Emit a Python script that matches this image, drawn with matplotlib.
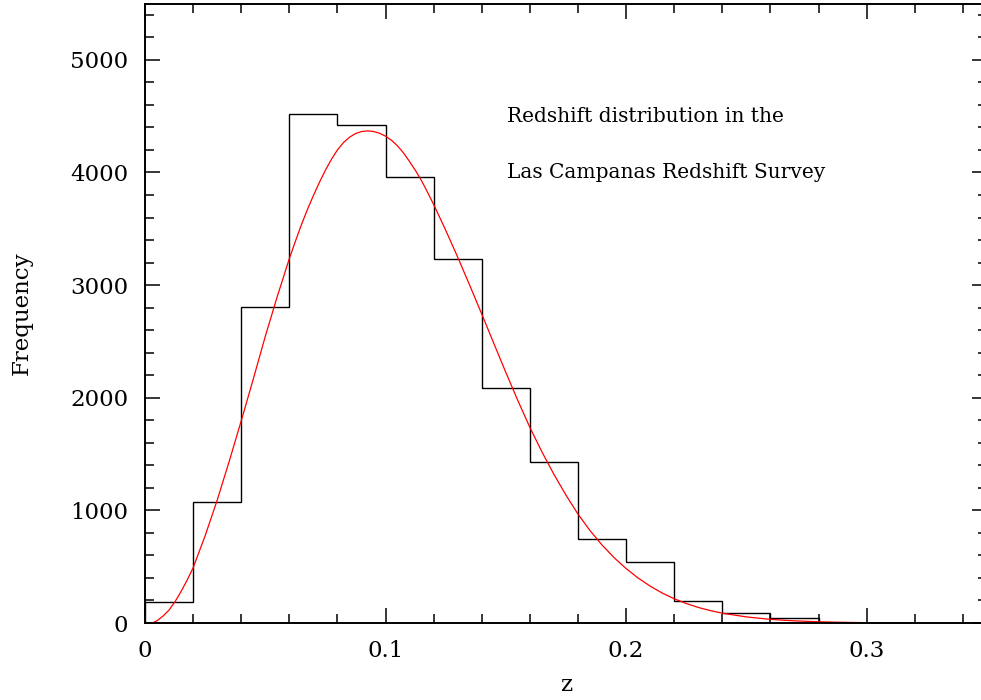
import numpy as np
import matplotlib
matplotlib.use("Agg")
import matplotlib.pyplot as plt
from matplotlib.ticker import MultipleLocator

# Histogram of redshifts: bin edges and counts per bin
bin_edges = [0.00, 0.02, 0.04, 0.06, 0.08, 0.10, 0.12, 0.14, 0.16,
             0.18, 0.20, 0.22, 0.24, 0.26, 0.28]
counts = [189, 1077, 2806, 4520, 4425, 3962, 3235, 2085, 1432,
          750, 539, 198, 86, 40]

# Smooth fitted distribution, sampled along z
fit_z = [0.0030, 0.0050, 0.0075, 0.0100, 0.0125, 0.0150, 0.0175, 0.0200,
         0.0250, 0.0300, 0.0350, 0.0400, 0.0450, 0.0500, 0.0550, 0.0600,
         0.0625, 0.0650, 0.0675, 0.0700, 0.0725, 0.0750, 0.0775, 0.0800,
         0.0825, 0.0850, 0.0875, 0.0900, 0.0925, 0.0950, 0.0975, 0.1000,
         0.1025, 0.1050, 0.1075, 0.1100, 0.1125, 0.1150, 0.1175, 0.1200,
         0.1250, 0.1300, 0.1350, 0.1400, 0.1450, 0.1500, 0.1550, 0.1600,
         0.1650, 0.1700, 0.1750, 0.1800, 0.1850, 0.1900, 0.1950, 0.2000,
         0.2050, 0.2100, 0.2150, 0.2200, 0.2250, 0.2300, 0.2350, 0.2400,
         0.2500, 0.2600, 0.2700, 0.2800, 0.2900, 0.3000, 0.3100, 0.3200]
fit_n = [0, 20, 62, 115, 190, 280, 380, 490,
         775, 1090, 1435, 1795, 2165, 2545, 2900, 3235,
         3388, 3535, 3670, 3795, 3912, 4020, 4117, 4200,
         4265, 4313, 4345, 4363, 4369, 4364, 4348, 4322,
         4285, 4235, 4172, 4096, 4015, 3925, 3822, 3715,
         3487, 3247, 2997, 2742, 2482, 2224, 1974, 1736,
         1519, 1319, 1135, 966, 820, 692, 580, 483,
         399, 327, 266, 215, 173, 138, 110, 87,
         54, 32, 19, 11, 6, 3, 1, 0]

x_major = [0.0, 0.1, 0.2, 0.3]
x_labels = ["0", "0.1", "0.2", "0.3"]
y_major = [0, 1000, 2000, 3000, 4000, 5000]
y_labels = ["0", "1000", "2000", "3000", "4000", "5000"]

title_lines = ["Redshift distribution in the", "Las Campanas Redshift Survey"]

plt.rcParams["font.family"] = ["DejaVu Serif"]

fig = plt.figure(figsize=(9.81, 7.0), dpi=100)
ax = fig.add_axes([145 / 981, 77 / 700, 842 / 981, 619.5 / 700])

ax.stairs(counts, bin_edges, color="black", linewidth=1.0, baseline=0)
ax.plot(fit_z, fit_n, color="red", linewidth=0.9)

ax.set_xlim(0, 0.35)
ax.set_ylim(0, 5500)

ax.set_xticks(x_major)
ax.set_xticklabels(x_labels)
ax.set_yticks(y_major)
ax.set_yticklabels(y_labels)
ax.xaxis.set_minor_locator(MultipleLocator(0.02))
ax.yaxis.set_minor_locator(MultipleLocator(200))

ax.tick_params(which="both", direction="in", top=True, right=True,
               labelsize=16.5, width=1.1, colors="black")
ax.tick_params(which="major", length=11, pad=12)
ax.tick_params(which="minor", length=6.8)

for sp in ax.spines.values():
    sp.set_linewidth(1.4)

ax.set_xlabel("z", fontsize=16.5, labelpad=9)
ax.set_ylabel("Frequency", fontsize=16.5, labelpad=27)

ax.text(0.43, 0.8168, title_lines[0], transform=ax.transAxes,
        fontsize=14.5, va="center", ha="left")
ax.text(0.43, 0.7264, title_lines[1], transform=ax.transAxes,
        fontsize=14.5, va="center", ha="left")

fig.savefig("out.png", dpi=100)
